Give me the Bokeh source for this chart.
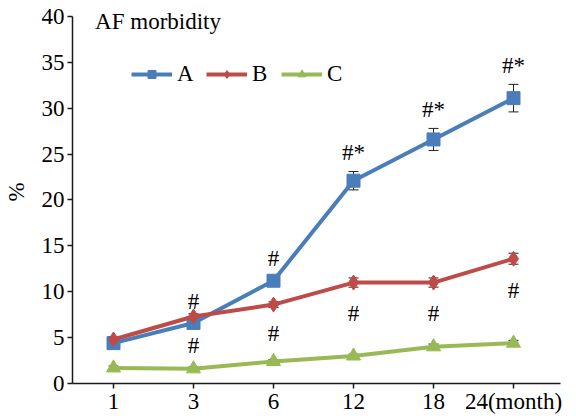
from bokeh.plotting import figure
from bokeh.models import FixedTicker, Legend, LegendItem, Label
from bokeh.core.properties import value
from bokeh.embed import file_html
from bokeh.resources import INLINE

months = ["1", "3", "6", "12", "18", "24(month)"]
a_vals = [4.4, 6.6, 11.2, 22.1, 26.6, 31.1]
a_err = [0.3, 0.3, 0.3, 1.0, 1.2, 1.5]
b_vals = [4.8, 7.3, 8.6, 11.0, 11.0, 13.6]
b_err = [0.3, 0.3, 0.3, 0.5, 0.5, 0.6]
c_vals = [1.7, 1.6, 2.4, 3.0, 4.0, 4.4]
c_err = [0.2, 0.2, 0.2, 0.2, 0.3, 0.3]
a_marks = ["", "#", "#", "#*", "#*", "#*"]
b_marks = ["", "#", "#", "#", "#", "#"]
y_ticks = [0, 5, 10, 15, 20, 25, 30, 35, 40]

FONT = "Liberation Serif"
BLUE = "#4A7EBB"
RED = "#BE4B48"
GREEN = "#98B954"
FS = "23px"

xs = list(range(len(months)))

p = figure(width=576, height=416, output_backend="svg", toolbar_location=None,
           x_range=(-0.5125, 5.5875), y_range=(0, 41.74),
           min_border_left=72, min_border_right=16, min_border_top=0, min_border_bottom=32)
p.xgrid.grid_line_color = None
p.ygrid.grid_line_color = None
p.outline_line_color = None
p.background_fill_color = "white"

# axes
p.yaxis.ticker = FixedTicker(ticks=y_ticks)
p.yaxis.bounds = (0, 40)
p.yaxis.minor_tick_line_color = None
p.yaxis.major_tick_in = 0
p.yaxis.major_tick_out = 5
p.yaxis.axis_label = "%"
p.yaxis.axis_label_text_font = FONT
p.yaxis.axis_label_text_font_style = "normal"
p.yaxis.axis_label_text_font_size = FS
p.yaxis.axis_label_text_color = "black"
p.yaxis.axis_label_standoff = 10
p.xaxis.ticker = FixedTicker(ticks=xs)
p.xaxis.major_label_overrides = {i: m for i, m in enumerate(months)}
p.xaxis.minor_tick_line_color = None
p.xaxis.major_tick_in = 0
p.xaxis.major_tick_out = 5
for ax in (p.xaxis[0], p.yaxis[0]):
    ax.major_label_text_font = FONT
    ax.major_label_text_font_size = FS
    ax.major_label_text_color = "black"
    ax.axis_line_color = "#1a1a1a"
    ax.axis_line_width = 1.5
    ax.major_tick_line_color = "#1a1a1a"
    ax.major_tick_line_width = 1.5
p.xaxis.major_label_standoff = 0
p.yaxis.major_label_standoff = 3

def errbars(vals, errs):
    lo = [v - e for v, e in zip(vals, errs)]
    hi = [v + e for v, e in zip(vals, errs)]
    p.segment(x0=xs, y0=lo, x1=xs, y1=hi, line_color="#222222", line_width=1)
    p.scatter(x=xs + xs, y=lo + hi, marker="dash", size=10, line_color="#222222", line_width=1)

errbars(a_vals, a_err)
errbars(b_vals, b_err)
errbars(c_vals, c_err)

la = p.line(xs, a_vals, line_color=BLUE, line_width=4)
sa = p.scatter(xs, a_vals, marker="square", size=13, fill_color=BLUE, line_color=BLUE)
lb = p.line(xs, b_vals, line_color=RED, line_width=4)
sb = p.scatter(xs, b_vals, marker="diamond", size=15, fill_color=RED, line_color=RED)
lc = p.line(xs, c_vals, line_color=GREEN, line_width=4)
sc = p.scatter(xs, c_vals, marker="triangle", size=14, fill_color=GREEN, line_color=GREEN)

# significance marks
a_top = [v + e for v, e in zip(a_vals, a_err)]
b_bot = [v - e for v, e in zip(b_vals, b_err)]
p.text(x=xs, y=a_top, text=a_marks, text_font=value(FONT), text_font_size=FS,
       text_align="center", text_baseline="middle", y_offset=-19, text_color="black")
p.text(x=xs, y=b_bot, text=b_marks, text_font=value(FONT), text_font_size=FS,
       text_align="center", text_baseline="middle", y_offset=26, text_color="black")

legend = Legend(items=[LegendItem(label="A", renderers=[la, sa]),
                       LegendItem(label="B", renderers=[lb, sb]),
                       LegendItem(label="C", renderers=[lc, sc])],
                orientation="horizontal", location=(59, 296),
                glyph_width=41, glyph_height=20, label_standoff=5, spacing=9,
                padding=0, margin=0, border_line_color=None, background_fill_alpha=0,
                label_text_font=FONT, label_text_font_size=FS, label_text_color="black")
p.add_layout(legend, "center")

p.add_layout(Label(x=-0.23, y=39.5, text="AF morbidity", text_font=FONT,
                   text_font_size=FS, text_baseline="alphabetic", text_color="black"))

open("out.html", "w").write(file_html(p, INLINE))
